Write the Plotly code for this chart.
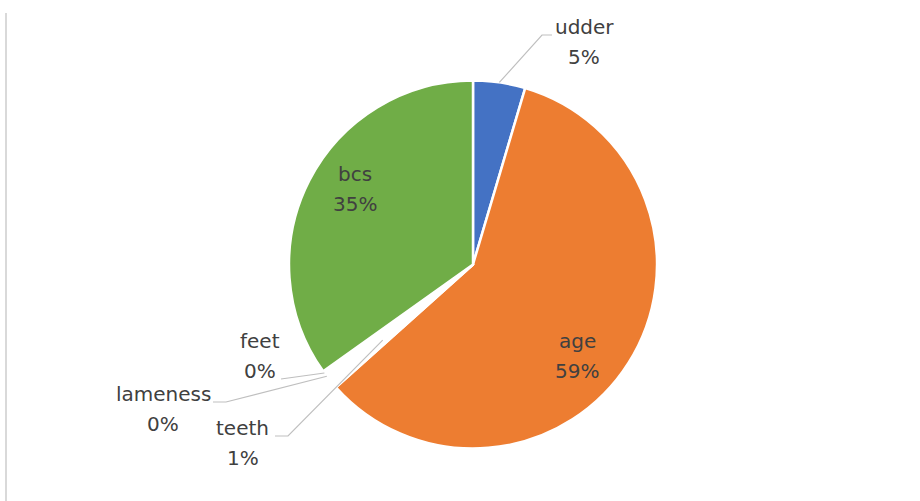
import math
import plotly.graph_objects as go

# Reasons recorded for culling, counts per category
categories = ["udder", "age", "teeth", "lameness", "feet", "bcs"]
counts = [13, 167, 3, 1, 1, 99]
colors = ["#4472C4", "#ED7D31", "#FFFFFF", "#FFFFFF", "#FFFFFF", "#70AD47"]

W, H = 920, 501
CX, CY, R = 473, 264.5, 184  # pie centre and radius in pixels

TEXT_COLOR = "#404040"
FONT = dict(family="DejaVu Sans", size=20, color=TEXT_COLOR)
LINE_GAP = 30

# Label block centres (pixels), leader style, and how deep the leader reaches
label_pos = {
    "udder": (584, 42, True, 1.0),
    "age": (577, 356, False, 1.0),
    "teeth": (243, 443, True, 0.64),
    "lameness": (163, 409, True, 1.0),
    "feet": (260, 356, True, 1.0),
    "bcs": (355, 189, False, 1.0),
}


def px(x):
    return x / W


def py(y):
    return 1 - y / H


total = sum(counts)
fracs = [c / total for c in counts]

# mid-angle of every slice, clockwise from 12 o'clock
mid_angles = []
acc = 0.0
for f in fracs:
    mid_angles.append((acc + f / 2) * 360)
    acc += f


def edge_point(angle_deg, r=R):
    a = math.radians(angle_deg)
    return CX + r * math.sin(a), CY - r * math.cos(a)


fig = go.Figure(
    go.Pie(
        labels=categories,
        values=counts,
        sort=False,
        direction="clockwise",
        rotation=0,
        marker=dict(colors=colors, line=dict(color="white", width=2.5)),
        textinfo="none",
        hoverinfo="label+percent",
        showlegend=False,
        domain=dict(x=[px(CX - R), px(CX + R)], y=[py(CY + R), py(CY - R)]),
    )
)

annotations = []
shapes = []
for name, frac, ang in zip(categories, fracs, mid_angles):
    lx, ly, leader, depth = label_pos[name]
    pct = f"{round(frac * 100 + 1e-9):d}%"
    annotations.append(dict(x=px(lx), y=py(ly - LINE_GAP / 2), text=name,
                            showarrow=False, xref="paper", yref="paper",
                            xanchor="center", yanchor="middle", font=FONT))
    annotations.append(dict(x=px(lx), y=py(ly + LINE_GAP / 2), text=pct,
                            showarrow=False, xref="paper", yref="paper",
                            xanchor="center", yanchor="middle", font=FONT))
    if leader:
        ex, ey = edge_point(ang, R * depth)
        half_w = len(name) * 6.0
        base_y = ly - LINE_GAP / 2 + 8
        if ex > lx:
            sx = lx + half_w + 2
            kx = sx + 13
        else:
            sx = lx - half_w - 2
            kx = sx - 10
        if name == "feet":
            sx = lx + 21
            kx = sx
            base_y = ly + LINE_GAP / 2 + 8
        path = f"M {px(sx)},{py(base_y)} L {px(kx)},{py(base_y)} L {px(ex)},{py(ey)}"
        shapes.append(dict(type="path", path=path, xref="paper", yref="paper",
                           line=dict(color="#BFBFBF", width=1.2)))

# thin frame edge on the left
shapes.append(dict(type="line", xref="paper", yref="paper",
                   x0=px(6), x1=px(6), y0=py(13), y1=0,
                   line=dict(color="#D9D9D9", width=2)))

fig.update_layout(
    width=W, height=H,
    margin=dict(l=0, r=0, t=0, b=0),
    paper_bgcolor="white",
    plot_bgcolor="white",
    annotations=annotations,
    shapes=shapes,
)

fig.write_html("out.html")
